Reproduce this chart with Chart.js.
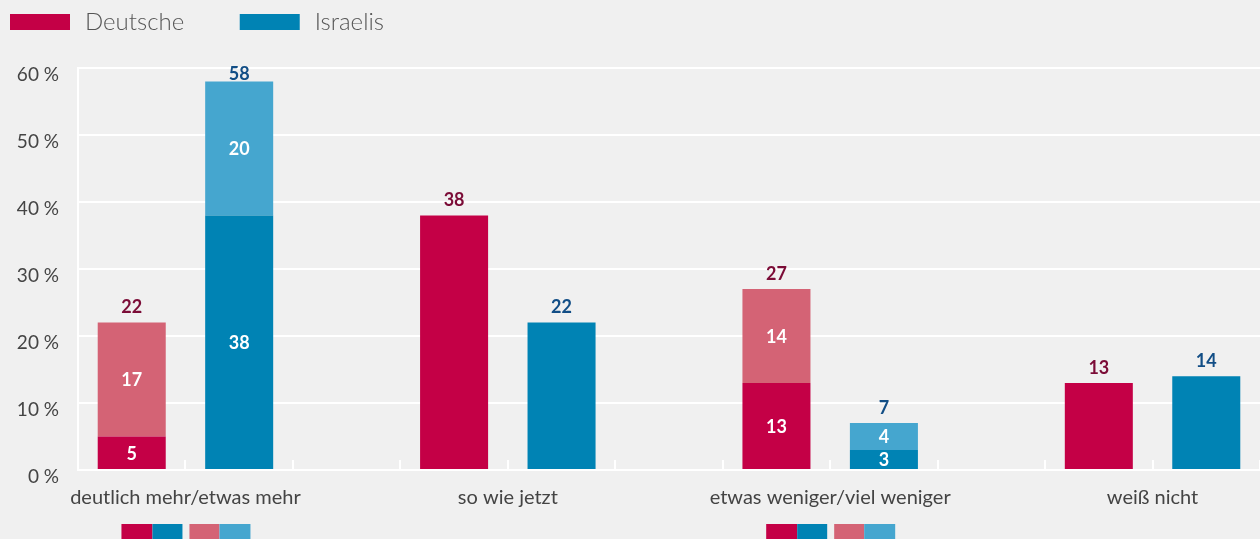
<!DOCTYPE html>
<html>
<head>
<meta charset="utf-8">
<script src="https://cdn.jsdelivr.net/npm/chart.js@4/dist/chart.umd.min.js"></script>
<style>
  html, body { margin: 0; padding: 0; background: #f0f0f0; overflow: hidden; }
  #wrap { width: 1260px; height: 539px; }
</style>
</head>
<body>
<div id="wrap"><canvas id="grafico"></canvas></div>
<script>
// Werte
const categories = ['deutlich mehr/etwas mehr', 'so wie jetzt', 'etwas weniger/viel weniger', 'weiß nicht'];
const seriesNames = ['Deutsche', 'Israelis'];
const deutscheBase = [5, 38, 13, 13];
const deutscheTop = [17, null, 14, null];
const israelisBase = [38, 22, 3, 14];
const israelisTop = [20, null, 4, null];
const yTicks = [0, 10, 20, 30, 40, 50, 60];

const colors = {
  deBase: '#c40046', deTop: '#d46375', deTotal: '#7b0c37',
  ilBase: '#0083b4', ilTop: '#45a6cf', ilTotal: '#124e86'
};

Chart.defaults.font.family = 'Lato';
Chart.defaults.color = '#444';

// Kategorie i liegt auf der x-Achse bei 1, 4, 7, 10
const catX = i => 1 + 3 * i;

function points(values) {
  return values
    .map((v, i) => (v === null ? null : { x: catX(i), y: v, cat: i }))
    .filter(p => p !== null);
}

const datasets = [
  { label: seriesNames[0], data: points(deutscheBase), backgroundColor: colors.deBase, stack: 'de' },
  { label: seriesNames[0] + ' (2)', data: points(deutscheTop), backgroundColor: colors.deTop, stack: 'de' },
  { label: seriesNames[1], data: points(israelisBase), backgroundColor: colors.ilBase, stack: 'il' },
  { label: seriesNames[1] + ' (2)', data: points(israelisTop), backgroundColor: colors.ilTop, stack: 'il' }
];

const valueLabels = {
  id: 'valueLabels',
  afterDatasetsDraw(chart) {
    const ctx = chart.ctx;
    const top = chart.chartArea.top;
    ctx.save();
    ctx.textAlign = 'center';
    ctx.textBaseline = 'middle';
    ctx.font = 'bold 18px Lato';
    // Segmentwerte (nur bei geteilten Balken)
    chart.data.datasets.forEach((ds, d) => {
      const meta = chart.getDatasetMeta(d);
      ds.data.forEach((p, j) => {
        const split = (d < 2 ? deutscheTop : israelisTop)[p.cat] !== null;
        if (!split) return;
        const el = meta.data[j];
        ctx.fillStyle = '#fff';
        ctx.fillText(String(p.y), el.x, (el.y + el.base) / 2 + 1);
      });
    });
    // Summen über den Balken
    [[0, 1, deutscheBase, deutscheTop, colors.deTotal], [2, 3, israelisBase, israelisTop, colors.ilTotal]]
      .forEach(([bi, ti, base, extra, col]) => {
        base.forEach((v, i) => {
          const useTop = extra[i] !== null;
          const d = useTop ? ti : bi;
          const j = chart.data.datasets[d].data.findIndex(p => p.cat === i);
          const el = chart.getDatasetMeta(d).data[j];
          const total = v + (useTop ? extra[i] : 0);
          ctx.fillStyle = col;
          ctx.fillText(String(total), el.x, Math.max(el.y - 15, top + 6));
        });
      });
    ctx.restore();
  }
};

// kleine Farbschlüssel unter den geteilten Kategorien
const keySwatches = {
  id: 'keySwatches',
  afterDraw(chart) {
    const ctx = chart.ctx;
    const xs = chart.scales.x;
    const y = xs.bottom - 15;
    const parts = [[-64, 31, colors.deBase], [-33, 30, colors.ilBase], [4, 30, colors.deTop], [34, 31, colors.ilTop]];
    categories.forEach((c, i) => {
      if (deutscheTop[i] === null) return;
      const cx = xs.getPixelForValue(catX(i));
      parts.forEach(([dx, w, col]) => {
        ctx.fillStyle = col;
        ctx.fillRect(cx + dx, y, w, 16);
      });
    });
  }
};

const ctx = document.getElementById('grafico').getContext('2d');
new Chart(ctx, {
  type: 'bar',
  data: { datasets },
  options: {
    responsive: true,
    maintainAspectRatio: false,
    animation: false,
    devicePixelRatio: 1,
    categoryPercentage: 2,
    barPercentage: 0.633,
    layout: { padding: 0 },
    plugins: {
      legend: {
        weight: 3000,
        align: 'start',
        labels: {
          boxWidth: 60,
          boxHeight: 16,
          padding: 10,
          color: '#555',
          font: { size: 24, weight: 300 },
          filter: item => item.datasetIndex % 2 === 0,
          generateLabels(chart) {
            const items = Chart.defaults.plugins.legend.labels.generateLabels(chart);
            items.forEach(it => {
              it.text = '\u2009' + it.text;
              if (it.datasetIndex === 0) it.text += '\u2003\u2003 \u2009';
            });
            return items;
          }
        }
      },
      title: { display: true, text: '', font: { size: 10, lineHeight: 1 }, padding: { top: 0, bottom: 14 } },
      tooltip: { enabled: false }
    },
    scales: {
      x: {
        type: 'linear',
        min: 0,
        max: 11,
        offset: false,
        afterFit: s => { s.height = 69; s.paddingLeft = 0; s.paddingRight = 0; },
        afterBuildTicks: s => { s.ticks = Array.from({ length: 12 }, (_, k) => ({ value: k })); },
        ticks: {
          autoSkip: false,
          maxRotation: 0,
          padding: 26,
          font: { size: 20 },
          callback: v => ((v - 1) % 3 === 0 ? categories[(v - 1) / 3] : '')
        },
        grid: { offset: false, drawOnChartArea: false, drawTicks: true, tickLength: -10, color: '#fff', lineWidth: 2 },
        border: { color: '#fff', width: 2 }
      },
      y: {
        min: 0,
        max: 60,
        afterFit: s => { s.width = 78; },
        afterBuildTicks: s => { s.ticks = yTicks.map(v => ({ value: v })); },
        ticks: {
          padding: 19,
          labelOffset: 7,
          font: { size: 19 },
          callback: v => v + ' %'
        },
        grid: { color: '#fff', lineWidth: 2, drawTicks: false },
        border: { color: '#fff', width: 2 }
      }
    }
  },
  plugins: [valueLabels, keySwatches]
});
</script>
</body>
</html>
